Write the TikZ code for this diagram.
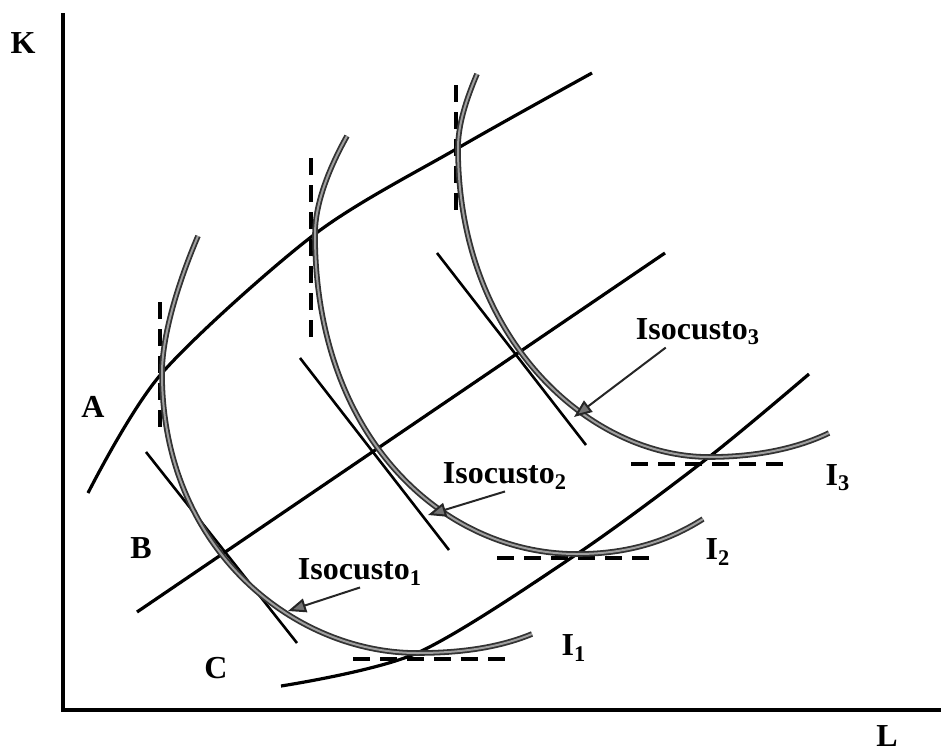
\documentclass[tikz,border=0pt]{standalone}
\usepackage{fontspec}
\setmainfont{Liberation Serif}
\usetikzlibrary{arrows.meta,calc}
\tikzset{
  axisln/.style={line width=2.2pt},
  expln/.style={line width=1.6pt},
  tanln/.style={line width=1.3pt},
  dashln/.style={line width=2pt, dash pattern=on 8.5pt off 5pt},
  isoq/.style={draw=black!80, line width=0.9pt, double=gray!75, double distance=1pt},
  lbl/.style={font=\bfseries\fontsize{16}{19}\selectfont, inner sep=1pt},
  lblarrow/.style={-{Triangle[length=9pt, width=7pt, fill=black!55]}, line width=1pt, draw=black!85}
}
\begin{document}
\begin{tikzpicture}[x=0.5pt, y=-0.5pt]
\useasboundingbox (0,0) rectangle (942,750);

% axes
\draw[axisln] (63,13) -- (63,710) -- (941,710);
\node[lbl] (kax) at (23,43) {K};
\node[lbl, anchor=base] (lax) at (887,746) {L};

% expansion paths A, B, C
\draw[expln] plot[smooth] coordinates {(88,493) (162,373) (315,234) (458,148) (592,73)};
\draw[expln] (137,612) -- (665,253);
\draw[expln] plot[smooth] coordinates {(281,686) (417,653) (577,554) (709,457) (809,374)};
\node[lbl] (a) at (93,407) {A};
\node[lbl] (b) at (141,548) {B};
\node[lbl] (c) at (216,668) {C};

% tangents
\draw[dashln] (160,302) -- (160,430);
\draw[dashln] (311,158) -- (311,337);
\draw[dashln] (456,85) -- (456,210);
\draw[dashln] (353,659) -- (508,659);
\draw[dashln] (497,558) -- (653,558);
\draw[dashln] (631,464) -- (787,464);
\draw[tanln] (146,452) -- (297,643);
\draw[tanln] (300,358) -- (449,550);
\draw[tanln] (437,253) -- (586,445);

% isoquants
\draw[isoq] (198,236) .. controls (175,290) and (162,340) .. (162,373)
  .. controls (162,550) and (295,653) .. (417,653)
  .. controls (470,653) and (505,645) .. (532,634);
\draw[isoq] (347,136) .. controls (328,170) and (315,205) .. (315,234)
  .. controls (315,440) and (445,554) .. (577,554)
  .. controls (630,554) and (670,540) .. (703,519);
\draw[isoq] (477,74) .. controls (466,100) and (458,125) .. (458,148)
  .. controls (458,340) and (590,457) .. (709,457)
  .. controls (760,457) and (800,447) .. (829,433);
\node[lbl] (i1) at (574,648) {I\textsubscript{1}};
\node[lbl] (i2) at (718,552) {I\textsubscript{2}};
\node[lbl] (i3) at (838,478) {I\textsubscript{3}};

% isocost labels
\coordinate (tip1) at (288,611);
\coordinate (tip2) at (428,515);
\coordinate (tip3) at (574,417);
\node[lbl] (iso1) at (360,572) {Isocusto\textsubscript{1}};
\node[lbl] (iso2) at (505,476) {Isocusto\textsubscript{2}};
\node[lbl] (iso3) at (698,332) {Isocusto\textsubscript{3}};
\draw[lblarrow] (iso1.south) -- (tip1);
\draw[lblarrow] (iso2.south) -- (tip2);
\draw[lblarrow] ($(iso3.south)!.5!(iso3.south west)$) -- (tip3);
\end{tikzpicture}
\end{document}
